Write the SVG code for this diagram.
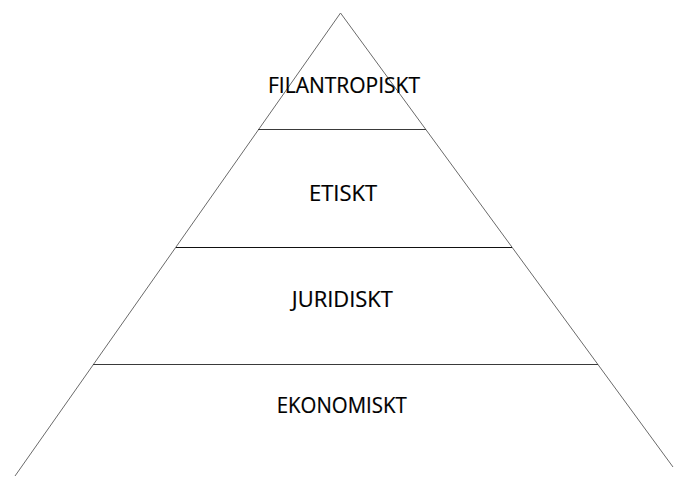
<svg xmlns="http://www.w3.org/2000/svg" width="674" height="477" viewBox="0 0 674 477">
<style>
.side{stroke:#6a6a6a;stroke-width:1;fill:none}
.sep{stroke:#3a3a3a;stroke-width:1;fill:none}
.lbl{font-family:"Open Sans","Liberation Sans",sans-serif;font-size:21.5px;fill:#000;stroke:#000;stroke-width:0.2;text-anchor:middle}
</style>
<rect width="674" height="477" fill="#fff"/>
<g id="connectors">
<path class="side" d="M15,476 L340.5,13 L673,467"/>
<line class="sep" x1="258" y1="129.5" x2="426" y2="129.5"/>
<line class="sep" x1="176" y1="247.5" x2="512" y2="247.5" style="stroke:#111"/>
<line class="sep" x1="93" y1="364.5" x2="598" y2="364.5"/>
</g>
<g id="filantropiskt"><text class="lbl" x="344" y="92.7" textLength="152" lengthAdjust="spacingAndGlyphs">FILANTROPISKT</text></g>
<g id="etiskt"><text class="lbl" x="343" y="200.7" textLength="68" lengthAdjust="spacingAndGlyphs">ETISKT</text></g>
<g id="juridiskt"><text class="lbl" x="342.3" y="307" textLength="101" lengthAdjust="spacingAndGlyphs">JURIDISKT</text></g>
<g id="ekonomiskt"><text class="lbl" x="341.7" y="412.7" textLength="130" lengthAdjust="spacingAndGlyphs">EKONOMISKT</text></g>
</svg>
